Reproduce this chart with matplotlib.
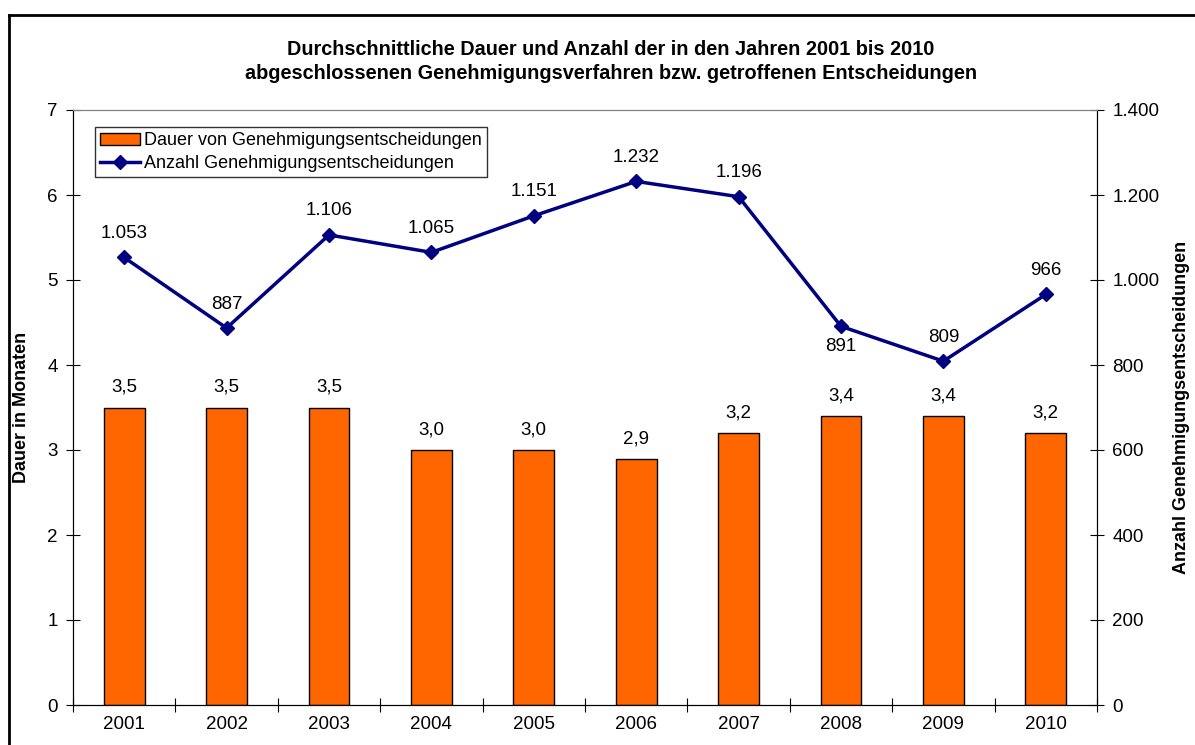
import matplotlib.pyplot as plt
import numpy as np
from matplotlib.lines import Line2D

plt.rcParams['font.family'] = ['Liberation Sans', 'DejaVu Sans']

jahre = ['2001', '2002', '2003', '2004', '2005', '2006', '2007', '2008', '2009', '2010']
dauer = [3.5, 3.5, 3.5, 3.0, 3.0, 2.9, 3.2, 3.4, 3.4, 3.2]
anzahl = [1053, 887, 1106, 1065, 1151, 1232, 1196, 891, 809, 966]
# Beschriftung unter dem Punkt statt darueber
unten = [False, False, False, False, False, False, False, True, False, False]


def de(n):
    return '{:,}'.format(int(n)).replace(',', '.')


fig = plt.figure(figsize=(11.95, 7.45), dpi=100)
ax = fig.add_axes([73 / 1195, 40 / 745, 1024 / 1195, 595 / 745])
ax2 = ax.twinx()

x = np.arange(len(jahre))
ax.bar(x, dauer, width=0.4, color='#FF6600', edgecolor='black', linewidth=1,
       zorder=2)
for xi, d in zip(x, dauer):
    ax.annotate(('%.1f' % d).replace('.', ','), (xi, d), xytext=(0, 20),
                textcoords='offset pixels', ha='center', va='center',
                fontsize=13.5)

ax.set_xlim(-0.5, len(jahre) - 0.5)
ax.set_ylim(0, 7)
ax.set_yticks(range(8))
ax.set_xticks(np.arange(-0.5, len(jahre), 1))
ax.set_xticklabels([])
ax.set_xticks(x, minor=True)
ax.set_xticklabels(jahre, minor=True, fontsize=13.5)
ax.tick_params(axis='x', which='minor', length=0, pad=8)
ax.tick_params(axis='x', which='major', direction='inout', length=10)
ax.tick_params(axis='y', direction='inout', length=10, labelsize=13.5, pad=6)
ax.set_ylabel('Dauer in Monaten', fontsize=13, fontweight='bold')
ax.yaxis.set_label_coords(-(73 - 30) / 1024, 0.5)

ax2.plot(x, anzahl, color='#000080', linewidth=2.5, marker='D', markersize=7,
         zorder=3)
for xi, a, u in zip(x, anzahl, unten):
    dy = -20 if u else 24
    ax2.annotate(de(a), (xi, a), xytext=(0, dy), textcoords='offset pixels',
                 ha='center', va='center', fontsize=13.5)
ax2.set_ylim(0, 1400)
ax2.set_yticks(range(0, 1401, 200))
ax2.set_yticklabels([de(v) for v in range(0, 1401, 200)])
ax2.tick_params(axis='y', direction='inout', length=10, labelsize=13.5, pad=6)
ax2.set_ylabel('Anzahl Genehmigungsentscheidungen', fontsize=13,
               fontweight='bold')
ax2.yaxis.set_label_coords((1173 - 73) / 1024, 0.5)

for a in (ax, ax2):
    a.spines['top'].set_color('#808080')
    a.spines['left'].set_color('black')
    a.spines['right'].set_color('black')

handles = [
    plt.Rectangle((0, 0), 1, 1, facecolor='#FF6600', edgecolor='black'),
    Line2D([], [], color='#000080', linewidth=2.5, marker='D', markersize=7),
]
leg = ax.legend(handles, ['Dauer von Genehmigungsentscheidungen',
                          'Anzahl Genehmigungsentscheidungen'],
                loc='upper left', bbox_to_anchor=((95 - 73) / 1024, (705 - 127) / 595),
                fontsize=13, frameon=True, fancybox=False, edgecolor='black',
                borderpad=0.3, handlelength=2.2, handletextpad=0.2,
                labelspacing=0.3, borderaxespad=0)
leg.get_frame().set_linewidth(1)

fig.text(0.511, 1 - 61.5 / 745,
         'Durchschnittliche Dauer und Anzahl der in den Jahren 2001 bis 2010\n'
         'abgeschlossenen Genehmigungsverfahren bzw. getroffenen Entscheidungen',
         ha='center', va='center', fontsize=14.3, fontweight='bold', linespacing=1.35)

# Rahmen um das Diagramm (unten und rechts abgeschnitten)
fig.add_artist(Line2D([9 / 1195, 9 / 1195], [0, 1 - 15 / 745], color='black',
                      linewidth=2))
fig.add_artist(Line2D([9 / 1195, 1], [1 - 15 / 745, 1 - 15 / 745],
                      color='black', linewidth=2))

fig.savefig('out.png', dpi=100)
